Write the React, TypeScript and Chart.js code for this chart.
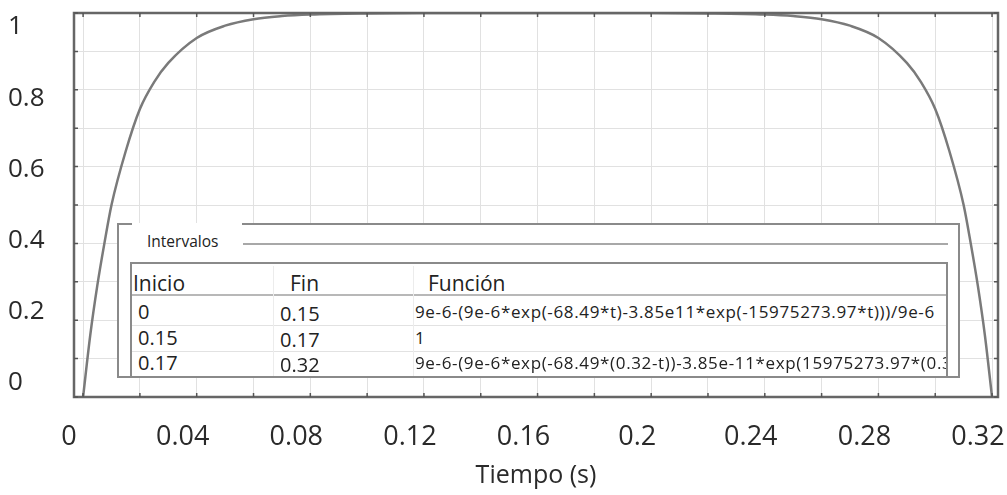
import React, { useEffect, useRef } from "react";
import { Chart, registerables } from "chart.js";

Chart.register(...registerables);

// Data
const TIME_S = [0, 0.0025, 0.005, 0.0075, 0.01, 0.015, 0.02, 0.025, 0.03, 0.04, 0.05, 0.06, 0.07, 0.08, 0.1, 0.12, 0.15, 0.17, 0.2, 0.22, 0.24, 0.25, 0.26, 0.27, 0.28, 0.29, 0.295, 0.3, 0.305, 0.31, 0.3125, 0.315, 0.3175, 0.32];
const VALUES = [0, 0.16, 0.29, 0.4, 0.5, 0.64, 0.75, 0.82, 0.87, 0.935, 0.967, 0.984, 0.992, 0.996, 0.999, 1, 1, 1, 1, 0.999, 0.996, 0.992, 0.984, 0.967, 0.935, 0.87, 0.82, 0.75, 0.64, 0.5, 0.4, 0.29, 0.16, 0];

const X_GRID = [0, 0.02, 0.04, 0.06, 0.08, 0.1, 0.12, 0.14, 0.16, 0.18, 0.2, 0.22, 0.24, 0.26, 0.28, 0.3, 0.32];
const X_LABEL_VALUES = [0, 0.04, 0.08, 0.12, 0.16, 0.2, 0.24, 0.28, 0.32];
const X_LABELS = ["0", "0.04", "0.08", "0.12", "0.16", "0.2", "0.24", "0.28", "0.32"];
const Y_GRID = [0, 0.1, 0.2, 0.3, 0.4, 0.5, 0.6, 0.7, 0.8, 0.9, 1];
const Y_LABEL_VALUES = [0, 0.2, 0.4, 0.6, 0.8, 1];
const Y_LABELS = ["0", "0.2", "0.4", "0.6", "0.8", "1"];

const X_MIN = -0.0032;
const X_MAX = 0.3221;
// the tick-label axis of the reference is slightly inset from the plotted range
const Y_LABEL_MIN = -0.0393;
const Y_LABEL_MAX = 1.0393;

const X_AXIS_TITLE = "Tiempo (s)";

const TABLE_TITLE = "Intervalos";
const TABLE_HEADERS = ["Inicio", "Fin", "Función"];
const TABLE_START = ["0", "0.15", "0.17"];
const TABLE_END = ["0.15", "0.17", "0.32"];
const TABLE_FUNC = [
  "9e-6-(9e-6*exp(-68.49*t)-3.85e11*exp(-15975273.97*t)))/9e-6",
  "1",
  "9e-6-(9e-6*exp(-68.49*(0.32-t))-3.85e-11*exp(15975273.97*(0.32-t)))/9e-6",
];

const FONT = "'Open Sans', 'DejaVu Sans', sans-serif";

const labelFor = (vals: number[], labels: string[], v: number) => {
  const i = vals.findIndex((x) => Math.abs(x - v) < 1e-9);
  return i >= 0 ? labels[i] : "";
};

const framePlugin = {
  id: "frame",
  afterDatasetsDraw(chart: any) {
    const { ctx, chartArea } = chart;
    const { left, right, top, bottom } = chartArea;
    ctx.save();
    ctx.strokeStyle = "#666";
    ctx.lineWidth = 2.5;
    ctx.strokeRect(left, top, right - left, bottom - top);
    ctx.lineWidth = 1.5;
    ctx.strokeStyle = "#555";
    const xs = chart.scales.x;
    const ys = chart.scales.y;
    X_GRID.forEach((v) => {
      const px = xs.getPixelForValue(v);
      ctx.beginPath();
      ctx.moveTo(px, top);
      ctx.lineTo(px, top + 4);
      ctx.moveTo(px, bottom);
      ctx.lineTo(px, bottom - 4);
      ctx.stroke();
    });
    Y_GRID.forEach((v) => {
      const py = ys.getPixelForValue(v);
      ctx.beginPath();
      ctx.moveTo(left, py);
      ctx.lineTo(left + 4, py);
      ctx.moveTo(right, py);
      ctx.lineTo(right - 4, py);
      ctx.stroke();
    });
    ctx.restore();
  },
};

function Inset() {
  const line = "#8a8a8a";
  const abs = (s: any): any => ({ position: "absolute", ...s });
  const rowY = [312, 338, 363];
  return (
    <>
      {/* outer box */}
      <div style={abs({ left: 117, top: 223, width: 843, height: 155, background: "#fff", borderLeft: `2px solid ${line}`, borderRight: `2px solid ${line}`, borderBottom: `2px solid ${line}`, boxSizing: "border-box" })} />
      <div style={abs({ left: 117, top: 223, width: 15, height: 2, background: line })} />
      <div style={abs({ left: 242, top: 223, width: 718, height: 2, background: line })} />
      <div style={abs({ left: 147, top: 231, height: 20, lineHeight: "20px", fontFamily: FONT, fontSize: 15.5, color: "#222", whiteSpace: "nowrap" })}>{TABLE_TITLE}</div>
      <div style={abs({ left: 243, top: 243, width: 705, height: 2, background: "#a8a8a8" })} />
      {/* inner table */}
      <div style={abs({ left: 130, top: 262, width: 818, height: 114, borderLeft: `2px solid ${line}`, borderRight: `2px solid ${line}`, borderTop: `2px solid ${line}`, boxSizing: "border-box", overflow: "hidden", background: "#fff" })} />
      <div style={abs({ left: 132, top: 294, width: 814, height: 1.5, background: "#b8b8b8" })} />
      <div style={abs({ left: 132, top: 325, width: 814, height: 1, background: "#e2e2e2" })} />
      <div style={abs({ left: 132, top: 351, width: 814, height: 1, background: "#e2e2e2" })} />
      <div style={abs({ left: 273, top: 266, width: 1, height: 110, background: "#ececec" })} />
      <div style={abs({ left: 413, top: 266, width: 1, height: 110, background: "#ececec" })} />
      {[133, 290, 428].map((x, i) => (
        <div key={"h" + i} style={abs({ left: x, top: 269, height: 28, lineHeight: "28px", fontFamily: FONT, fontSize: 21, color: "#222", whiteSpace: "nowrap" })}>{TABLE_HEADERS[i]}</div>
      ))}
      {rowY.map((y, i) => (
        <React.Fragment key={"r" + i}>
          <div style={abs({ left: 138, top: y - 14, height: 28, lineHeight: "28px", fontFamily: FONT, fontSize: 20, color: "#222", whiteSpace: "nowrap" })}>{TABLE_START[i]}</div>
          <div style={abs({ left: 280, top: y - 12, height: 28, lineHeight: "28px", fontFamily: FONT, fontSize: 20, color: "#222", whiteSpace: "nowrap" })}>{TABLE_END[i]}</div>
          <div style={abs({ left: 415, top: y - 12, width: 531, height: 24, lineHeight: "24px", fontFamily: FONT, fontSize: 17, letterSpacing: "0.65px", color: "#222", whiteSpace: "nowrap", overflow: "hidden" })}>{TABLE_FUNC[i]}</div>
        </React.Fragment>
      ))}
    </>
  );
}

export default function App() {
  const canvasRef = useRef<HTMLCanvasElement | null>(null);

  useEffect(() => {
    if (!canvasRef.current) return;
    const chart = new Chart(canvasRef.current, {
      type: "line",
      data: {
        datasets: [
          {
            data: TIME_S.map((t, i) => ({ x: t, y: VALUES[i] })),
            borderColor: "#7a7a7a",
            borderWidth: 2.5,
            pointRadius: 0,
            cubicInterpolationMode: "monotone",
            fill: false,
            xAxisID: "x",
            yAxisID: "y",
          },
        ],
      },
      options: {
        animation: false,
        responsive: false,
        devicePixelRatio: 1,
        layout: { padding: { left: 8, top: 13, right: 9, bottom: 0 } },
        plugins: { legend: { display: false }, tooltip: { enabled: false } },
        scales: {
          x: {
            type: "linear",
            min: X_MIN,
            max: X_MAX,
            grid: { color: "#e1e1e1", lineWidth: 1, drawTicks: false },
            border: { display: false },
            afterBuildTicks: (scale: any) => {
              scale.ticks = X_GRID.map((v) => ({ value: v }));
            },
            afterFit: (scale: any) => {
              scale.height = 98;
              scale.paddingLeft = 0;
              scale.paddingRight = 0;
            },
            ticks: {
              autoSkip: false,
              maxRotation: 0,
              padding: 24,
              labelOffset: -14,
              color: "#2a2a2a",
              font: { family: FONT, size: 27 },
              callback: (v: any) => labelFor(X_LABEL_VALUES, X_LABELS, Number(v)),
            },
            title: {
              display: true,
              text: X_AXIS_TITLE,
              color: "#2a2a2a",
              font: { family: FONT, size: 25 },
              padding: { top: 0, bottom: 4 },
            },
          },
          yLabels: {
            type: "linear",
            position: "left",
            min: Y_LABEL_MIN,
            max: Y_LABEL_MAX,
            grid: { display: false, drawTicks: false },
            border: { display: false },
            afterBuildTicks: (scale: any) => {
              scale.ticks = Y_LABEL_VALUES.map((v) => ({ value: v }));
            },
            afterFit: (scale: any) => {
              scale.width = 66;
              scale.paddingTop = 0;
              scale.paddingBottom = 0;
            },
            ticks: {
              autoSkip: false,
              crossAlign: "far",
              color: "#2a2a2a",
              font: { family: FONT, size: 26 },
              callback: (v: any) => labelFor(Y_LABEL_VALUES, Y_LABELS, Number(v)),
            },
          },
          y: {
            type: "linear",
            position: "left",
            min: 0,
            max: 1,
            grid: { color: "#e1e1e1", lineWidth: 1, drawTicks: false },
            border: { display: false },
            afterBuildTicks: (scale: any) => {
              scale.ticks = Y_GRID.map((v) => ({ value: v }));
            },
            afterFit: (scale: any) => {
              scale.width = 0;
              scale.paddingTop = 0;
              scale.paddingBottom = 0;
            },
            ticks: { display: false },
          },
        },
      },
      plugins: [framePlugin],
    } as any);
    return () => chart.destroy();
  }, []);

  return (
    <div style={{ position: "fixed", left: 0, top: 0, width: 1007, height: 495, background: "#fff", overflow: "hidden" }}>
      <canvas ref={canvasRef} width={1007} height={495} style={{ position: "absolute", left: 0, top: 0, width: 1007, height: 495 }} />
      <Inset />
    </div>
  );
}
